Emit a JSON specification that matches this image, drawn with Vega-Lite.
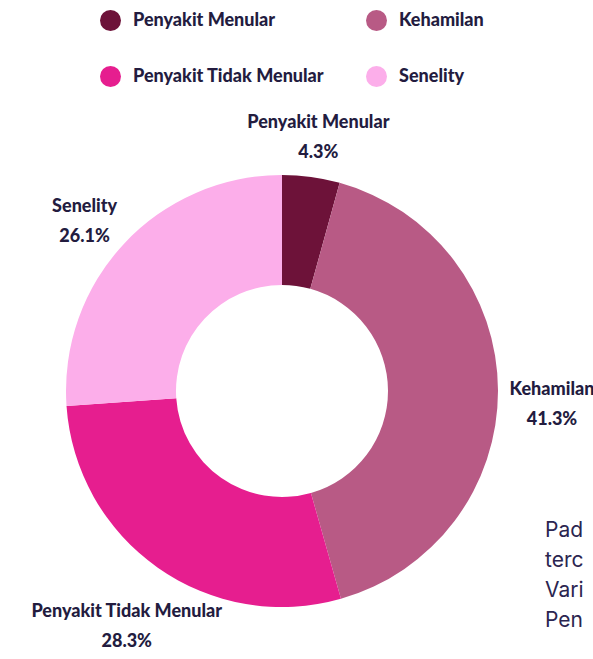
{
  "$schema": "https://vega.github.io/schema/vega-lite/v6.json",
  "width": 564,
  "height": 536,
  "autosize": "none",
  "padding": {"left": 0, "top": 123, "right": 29, "bottom": 0},
  "background": "white",
  "title": {
    "text": ["Pad", "terc", "Vari", "Pen"],
    "orient": "top",
    "anchor": "start",
    "frame": "group",
    "align": "left",
    "baseline": "top",
    "dx": 545,
    "dy": 625,
    "font": "Inter",
    "fontSize": 21,
    "fontWeight": "normal",
    "color": "#2b2550",
    "lineHeight": 30
  },
  "data": {
    "values": [
      {"category": "Penyakit Menular", "value": 4.3, "order": 1, "label": ["Penyakit Menular", "4.3%"]},
      {"category": "Kehamilan", "value": 41.3, "order": 2, "label": ["Kehamilan", "41.3%"]},
      {"category": "Penyakit Tidak Menular", "value": 28.3, "order": 3, "label": ["Penyakit Tidak Menular", "28.3%"]},
      {"category": "Senelity", "value": 26.1, "order": 4, "label": ["Senelity", "26.1%"]}
    ]
  },
  "encoding": {
    "theta": {"field": "value", "type": "quantitative", "stack": true},
    "order": {"field": "order", "type": "quantitative"},
    "color": {
      "field": "category",
      "type": "nominal",
      "scale": {
        "domain": ["Penyakit Menular", "Kehamilan", "Penyakit Tidak Menular", "Senelity"],
        "range": ["#6d1239", "#b85a85", "#e61e8f", "#fcaeea"]
      },
      "legend": {
        "title": null,
        "orient": "none",
        "legendX": 100,
        "legendY": -113,
        "direction": "horizontal",
        "columns": 2,
        "gridAlign": "none",
        "columnPadding": 41,
        "rowPadding": 35,
        "symbolType": "circle",
        "symbolSize": 441,
        "symbolStrokeWidth": 0,
        "symbolOpacity": 1,
        "labelFont": "Lato",
        "labelFontWeight": 900,
        "labelFontSize": 18,
        "labelColor": "#231c3f",
        "labelOffset": 12,
        "labelLimit": 300
      }
    }
  },
  "layer": [
    {
      "mark": {"type": "arc", "outerRadius": 216, "innerRadius": 106, "stroke": null}
    },
    {
      "mark": {
        "type": "text",
        "radius": 270,
        "font": "Lato",
        "fontWeight": 900,
        "fontSize": 18,
        "lineHeight": 30,
        "color": "#231c3f",
        "align": "center",
        "baseline": "middle"
      },
      "encoding": {
        "text": {"field": "label"},
        "color": {"value": "#231c3f"}
      }
    }
  ]
}
